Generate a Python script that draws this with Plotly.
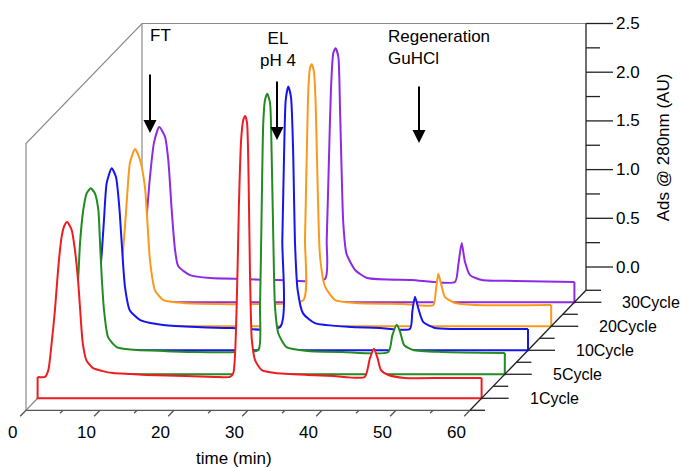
import plotly.graph_objects as go

# ---------------- data ----------------
cycle_labels = ["1Cycle", "5Cycle", "10Cycle", "20Cycle", "30Cycle"]
cycle_depth = [1, 3, 5, 7, 9]          # position along the depth axis (minor-tick units)

t_1 = [0, 1.0, 1.45, 1.9, 2.35, 2.8, 3.25, 3.6, 4.0, 4.6, 5.05, 5.5, 5.75, 6.1, 6.6, 7.5, 8.8, 10.2,
       12.5, 14.7, 20, 24, 26.0, 26.45, 26.9, 27.2, 27.5, 27.8, 28.05, 28.3, 28.5, 28.7, 28.95, 29.4,
       30.3, 32.1, 36.5, 40, 44.2, 44.9, 45.45, 45.95, 46.4, 47.4, 49.6, 55, 60]
v_1 = [-0.02, -0.02, 0.05, 0.33, 0.67, 1.11, 1.42, 1.53, 1.57, 1.49, 1.28, 0.94, 0.67, 0.33, 0.15,
       0.07, 0.04, 0.02, 0.01, 0.0, -0.01, -0.02, -0.02, 0.02, 0.70, 1.73, 2.41, 2.62, 2.66, 2.59,
       2.07, 1.05, 0.36, 0.15, 0.05, 0.02, 0.0, -0.01, -0.02, 0.17, 0.27, 0.17, 0.05, 0.0, -0.03,
       -0.03, -0.03]

t_5 = [0, 1.0, 1.5, 1.95, 2.36, 2.6, 3.04, 3.5, 4.04, 4.6, 5.07, 5.3, 5.53, 5.84, 6.4, 7.55, 8.8,
       10.3, 13.8, 18, 24, 26.7, 26.92, 27.15, 27.36, 27.6, 27.9, 28.27, 28.5, 28.72, 28.95, 29.4,
       30.5, 33.4, 38, 44.26, 44.8, 45.4, 45.84, 46.4, 47.6, 51.5, 60]
v_5 = [-0.02, -0.02, 0.08, 0.38, 0.76, 1.11, 1.45, 1.62, 1.67, 1.62, 1.45, 1.11, 0.76, 0.42, 0.14,
       0.04, 0.02, 0.01, 0.0, -0.01, -0.01, 0.01, 0.45, 1.48, 2.34, 2.58, 2.64, 2.55, 1.99, 1.14,
       0.45, 0.18, 0.04, 0.0, -0.01, -0.01, 0.16, 0.27, 0.20, 0.06, 0.01, -0.01, -0.02]

t_10 = [0, 1.0, 1.5, 1.95, 2.4, 2.7, 3.07, 3.74, 4.32, 4.77, 5.1, 5.54, 6.2, 7.6, 9.0, 10.7, 15.2,
        20, 26.5, 26.8, 27.03, 27.26, 27.6, 27.97, 28.28, 28.5, 28.87, 29.6, 31.2, 36.2, 40, 44.05,
        44.37, 44.73, 45.18, 45.85, 47.4, 50.1, 60]
v_10 = [-0.02, -0.02, 0.08, 0.38, 0.76, 1.10, 1.48, 1.63, 1.54, 1.23, 0.86, 0.41, 0.17, 0.07, 0.04,
        0.02, 0.0, -0.01, 0.0, 0.89, 1.75, 2.33, 2.47, 2.36, 1.75, 0.89, 0.38, 0.14, 0.04, 0.0,
        -0.01, -0.02, 0.16, 0.31, 0.19, 0.05, -0.01, -0.02, -0.02]

t_20 = [0, 1.0, 1.5, 1.95, 2.4, 2.72, 3.08, 3.76, 4.43, 5.1, 5.42, 5.78, 6.46, 7.6, 10.3, 15, 20,
        26.5, 26.73, 26.96, 27.18, 27.4, 27.64, 27.95, 28.18, 28.45, 28.76, 29.43, 30.8, 33.5, 40,
        44.07, 44.4, 44.74, 45.1, 45.65, 47.0, 49.7, 60]
v_20 = [-0.02, -0.02, 0.08, 0.38, 0.78, 1.13, 1.44, 1.58, 1.47, 1.19, 0.85, 0.44, 0.13, 0.03, 0.0,
        -0.01, -0.01, 0.03, 0.65, 1.50, 2.19, 2.41, 2.45, 2.37, 2.02, 1.16, 0.48, 0.17, 0.03, 0.0,
        -0.01, -0.02, 0.12, 0.30, 0.20, 0.06, 0.0, -0.02, -0.02]

t_30 = [0, 1.0, 1.5, 1.85, 2.2, 2.65, 3.19, 3.9, 4.68, 5.12, 5.58, 6.03, 6.47, 8.05, 10.8, 15, 20,
        26.3, 26.53, 26.84, 27.1, 27.42, 27.74, 28.1, 28.32, 28.55, 28.77, 29.2, 30.4, 32.0, 38,
        43.86, 44.3, 44.77, 45.2, 45.9, 47.5, 52, 60]
v_30 = [-0.02, -0.02, 0.08, 0.32, 0.64, 1.05, 1.40, 1.56, 1.46, 1.22, 0.71, 0.30, 0.13, 0.04, 0.01,
        0.0, -0.01, 0.0, 0.40, 1.26, 1.94, 2.32, 2.37, 2.28, 1.77, 1.09, 0.57, 0.26, 0.09, 0.01,
        -0.01, -0.03, 0.14, 0.37, 0.18, 0.04, -0.01, -0.02, -0.03]

series_t = [t_1, t_5, t_10, t_20, t_30]
series_v = [v_1, v_5, v_10, v_20, v_30]

x_tick_values = [0, 10, 20, 30, 40, 50, 60]
y_tick_values = [0.0, 0.5, 1.0, 1.5, 2.0, 2.5]
y_tick_labels = ["0.0", "0.5", "1.0", "1.5", "2.0", "2.5"]

# ---------------- styling / projection ----------------
colors = ["#ee1d23", "#228b22", "#1515f0", "#f99a1c", "#8c2be6"]
FONT = "Liberation Sans, Arial, sans-serif"

W, H = 681, 468
PX_PER_MIN = 7.4
PX_PER_AU = 97.4
X0_PX = 26.0        # pixel of t=0 on the front plane
Y0_PX = 387.0       # pixel of v=0 on the front plane
STEP_DX_PX = 11.6   # oblique depth step
STEP_DY_PX = 12.0
DX = STEP_DX_PX / PX_PER_MIN
DY = STEP_DY_PX / PX_PER_AU

T_MIN, T_MAX = 0, 60
V_FLOOR, V_TOP = -0.239, 2.5
K_MAX = 10

x_range = [-X0_PX / PX_PER_MIN, (W - X0_PX) / PX_PER_MIN]
y_range = [(Y0_PX - H) / PX_PER_AU, Y0_PX / PX_PER_AU]


def proj(t, v, k):
    return t + k * DX, v + k * DY


def seg_trace(segments, color, width):
    xs, ys = [], []
    for pts in segments:
        for (t, v, k) in pts:
            x, y = proj(t, v, k)
            xs.append(x)
            ys.append(y)
        xs.append(None)
        ys.append(None)
    return go.Scatter(x=xs, y=ys, mode="lines", line=dict(color=color, width=width),
                      hoverinfo="skip", showlegend=False)


fig = go.Figure()

# frame (grey box edges)
frame = [
    [(T_MIN, V_FLOOR, 0), (T_MIN, V_TOP, 0), (T_MIN, V_TOP, K_MAX), (T_MAX, V_TOP, K_MAX)],
    [(T_MIN, V_TOP, K_MAX), (T_MIN, V_FLOOR, K_MAX)],
    [(T_MIN, V_FLOOR, 0), (T_MIN, V_FLOOR, K_MAX)],
]
fig.add_trace(seg_trace(frame, "#8a8a8a", 1.2))

# chromatograms, back to front, white fill hides what is behind
order = list(range(len(series_t)))[::-1]
for i in order:
    k = cycle_depth[i]
    ts, vs = series_t[i], series_v[i]
    # floor outline (left edge, floor line, right edge)
    base_pts = [(ts[0], vs[0], k), (ts[0], V_FLOOR, k), (ts[-1], V_FLOOR, k), (ts[-1], vs[-1], k)]
    bx, by = zip(*[proj(*p) for p in base_pts])
    fig.add_trace(go.Scatter(x=list(bx), y=list(by), mode="lines",
                             line=dict(color=colors[i], width=2),
                             hoverinfo="skip", showlegend=False))
    cx, cy = zip(*[proj(t, v, k) for t, v in zip(ts, vs)])
    fig.add_trace(go.Scatter(x=list(cx)[::-1], y=list(cy)[::-1], mode="lines",
                             line=dict(color=colors[i], width=2, shape="spline", smoothing=0.6),
                             fill="tonexty", fillcolor="white",
                             hoverinfo="skip", showlegend=False, name=cycle_labels[i]))

# axes
axis_col = "#222222"
# front time axis + ticks
x_ticks = []
for t in range(T_MIN, T_MAX + 1, 5):
    kk = -0.5 if t % 10 == 0 else -0.25
    x_ticks.append([(t, V_FLOOR, 0), (t, V_FLOOR, kk)])
fig.add_trace(seg_trace([[(T_MIN, V_FLOOR, 0), (T_MAX, V_FLOOR, 0)]] + x_ticks, "#555555", 1.3))

# depth axis + ticks
d_segs = [[(T_MAX, V_FLOOR, 0), (T_MAX, V_FLOOR, K_MAX)]]
for k in range(0, K_MAX + 1):
    L = (27 if k in cycle_depth else 15) / PX_PER_MIN
    d_segs.append([(T_MAX, V_FLOOR, k), (T_MAX + L, V_FLOOR, k)])
fig.add_trace(seg_trace(d_segs, axis_col, 1.3))

# value axis + ticks (on the back plane)
y_segs = [[(T_MAX, V_FLOOR, K_MAX), (T_MAX, V_TOP, K_MAX)]]
for j in range(0, 11):
    v = j * 0.25
    L = (27 if j % 2 == 0 else 14) / PX_PER_MIN
    y_segs.append([(T_MAX, v, K_MAX), (T_MAX + L, v, K_MAX)])
fig.add_trace(seg_trace(y_segs, axis_col, 1.3))

ann = []
for t in x_tick_values:
    x, y = proj(t, V_FLOOR, -0.5)
    ann.append(dict(x=x, y=y, xref="x", yref="y", text=str(t), showarrow=False,
                    xanchor="center", yanchor="middle", xshift=-8, yshift=-16,
                    font=dict(size=17, color="black", family=FONT)))
for v, lab in zip(y_tick_values, y_tick_labels):
    x, y = proj(T_MAX, v, K_MAX)
    ann.append(dict(x=x, y=y, xref="x", yref="y", text=lab, showarrow=False,
                    xanchor="left", yanchor="middle", xshift=28,
                    font=dict(size=17, color="black", family=FONT)))
for lab, k in zip(cycle_labels, cycle_depth):
    x, y = proj(T_MAX, V_FLOOR, k)
    ann.append(dict(x=x, y=y, xref="x", yref="y", text=lab, showarrow=False,
                    xanchor="left", yanchor="middle", xshift=46,
                    font=dict(size=16, color="black", family=FONT)))
# axis titles
x, y = proj(30, V_FLOOR, 0)
ann.append(dict(x=x, y=y, xref="x", yref="y", text="time (min)", showarrow=False,
                xanchor="center", yanchor="middle", xshift=-14, yshift=-48,
                font=dict(size=17, color="black", family=FONT)))
x, y = proj(T_MAX, 1.25, K_MAX)
ann.append(dict(x=x, y=y, xref="x", yref="y", text="Ads @ 280nm (AU)", showarrow=False,
                textangle=-90, xanchor="center", yanchor="middle", xshift=77, yshift=-2,
                font=dict(size=17, color="black", family=FONT)))


# event labels with arrows (pixel layout positions)
def px(xp):
    return xp / W


def py(yp):
    return 1 - yp / H


events = [("FT", 148, 36, "left", 150, 133, 60),
          ("EL<br>pH 4", 278, 50, "center", 277, 140, 60),
          ("Regeneration<br>GuHCl", 386, 48, "left", 419, 143, 58)]
for text, tx, ty, anc, ax_, ay_, alen in events:
    ann.append(dict(x=px(tx), y=py(ty), xref="paper", yref="paper", text=text, showarrow=False,
                    xanchor=anc, yanchor="middle", align=anc,
                    font=dict(size=17, color="black", family=FONT)))
    ann.append(dict(x=px(ax_), y=py(ay_), xref="paper", yref="paper", text="", showarrow=True,
                    ax=0, ay=-alen, arrowhead=2, arrowsize=1.3, arrowwidth=2,
                    arrowcolor="black", standoff=0))

fig.update_layout(
    width=W, height=H,
    margin=dict(l=0, r=0, t=0, b=0),
    paper_bgcolor="white", plot_bgcolor="white",
    xaxis=dict(range=x_range, visible=False, fixedrange=True),
    yaxis=dict(range=y_range, visible=False, fixedrange=True),
    annotations=ann,
    showlegend=False,
)

fig.write_html("out.html")
